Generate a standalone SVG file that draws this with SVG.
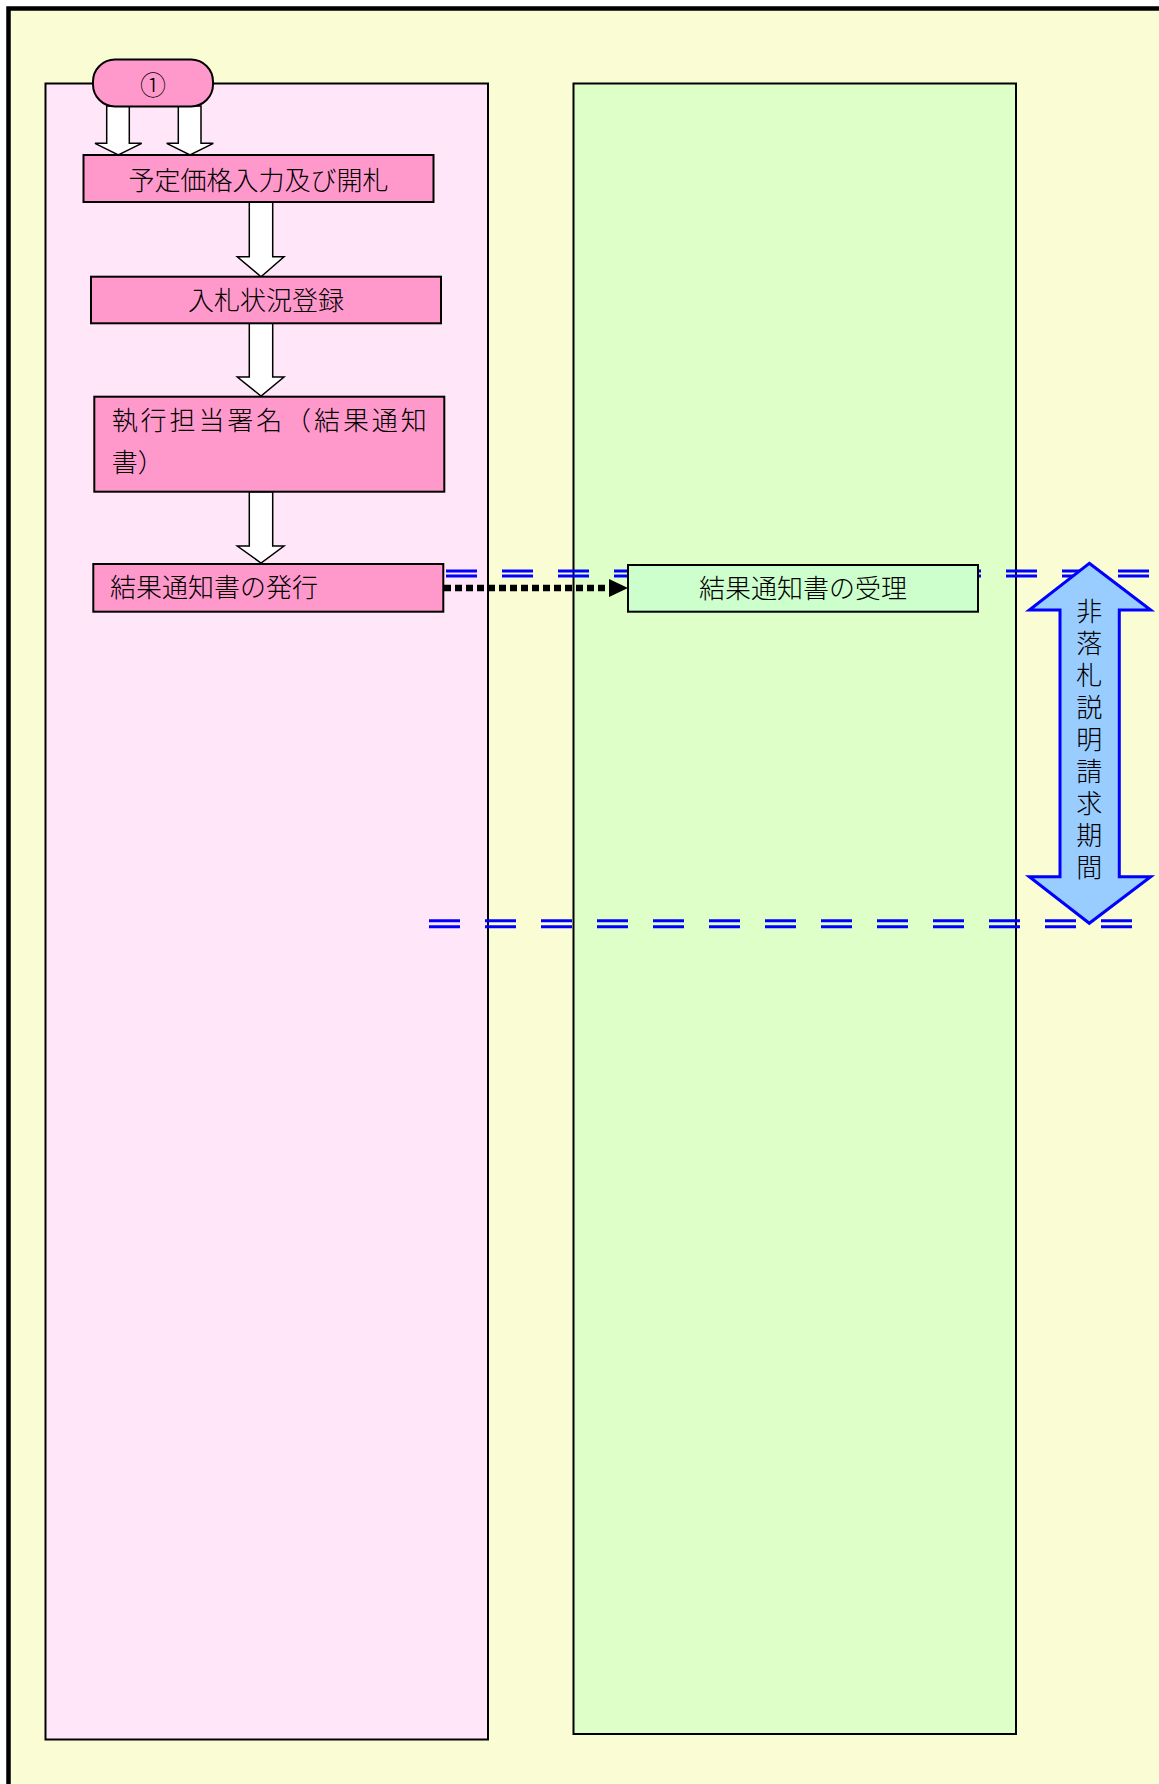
<svg xmlns="http://www.w3.org/2000/svg" width="1159" height="1784" viewBox="0 0 1159 1784">
<style>
.t{font-family:"Liberation Serif","Noto Sans CJK JP",serif;font-size:26px;font-weight:300;fill:#000}
.pbox{fill:#FF99CC;stroke:#000;stroke-width:2}
.blk{fill:#fff;stroke:#000;stroke-width:1.5;stroke-linejoin:miter}
.dbl{stroke:#0000FF;stroke-width:3;fill:none;stroke-dasharray:31 25}
.lane{stroke:#000;stroke-width:2}
</style>
<defs>
<marker id="ah" markerUnits="userSpaceOnUse" markerWidth="20" markerHeight="20" viewBox="0 0 20 20" refX="0" refY="9" orient="auto">
<polygon points="0,0 19,9 0,18" fill="#000"/>
</marker>
</defs>
<rect x="0" y="0" width="1159" height="1784" fill="#fff"/>
<rect id="frame" x="8.5" y="8.5" width="1200" height="1800" fill="#FAFCD4" stroke="#000" stroke-width="4.5"/>
<g id="lane-left"><rect class="lane" x="45.5" y="83.5" width="442.5" height="1656" fill="#FFE6F8"/></g>
<g id="lane-right"><rect class="lane" x="573.5" y="83.5" width="442.5" height="1650.5" fill="#DEFFC8"/></g>
<g id="period-lines">
<line class="dbl" x1="446" y1="571" x2="1159" y2="571"/>
<line class="dbl" x1="446" y1="576" x2="1159" y2="576"/>
<line class="dbl" x1="429" y1="920.7" x2="1140" y2="920.7"/>
<line class="dbl" x1="429" y1="926.7" x2="1140" y2="926.7"/>
</g>
<g id="connectors">
<polygon class="blk" points="106.7,106 129.3,106 129.3,143.3 141.7,143.3 118.3,155 95,143.3 106.7,143.3"/>
<polygon class="blk" points="178.3,106 201,106 201,143.3 213.3,143.3 190,155 166.7,143.3 178.3,143.3"/>
<polygon class="blk" points="249.3,202 272.7,202 272.7,256.7 284,256.7 261,276.7 237.3,256.7 249.3,256.7"/>
<polygon class="blk" points="249.3,323.3 272.7,323.3 272.7,377 284,377 261,396 237.3,377 249.3,377"/>
<polygon class="blk" points="249.3,491.7 272.7,491.7 272.7,546 284,546 261,563 237.3,546 249.3,546"/>
<line x1="444" y1="588" x2="609" y2="588" stroke="#000" stroke-width="6.5" stroke-dasharray="7 4" marker-end="url(#ah)"/>
</g>
<g id="node-start">
<rect x="93" y="59.5" width="120" height="47" rx="22" ry="22" fill="#FF99CC" stroke="#000" stroke-width="2"/>
<text class="t" x="153" y="95" text-anchor="middle" font-size="27">①</text>
</g>
<g id="node-1">
<rect class="pbox" x="83.5" y="155" width="350" height="47"/>
<text class="t" x="258.5" y="190" text-anchor="middle">予定価格入力及び開札</text>
</g>
<g id="node-2">
<rect class="pbox" x="91" y="276.7" width="350" height="46.6"/>
<text class="t" x="266" y="310" text-anchor="middle">入札状況登録</text>
</g>
<g id="node-3">
<rect class="pbox" x="94.3" y="396.7" width="350" height="95"/>
<text class="t" x="111.7" y="430" textLength="315" lengthAdjust="spacing">執行担当署名（結果通知</text>
<text class="t" x="111.7" y="471.7">書）</text>
</g>
<g id="node-4">
<rect class="pbox" x="93.3" y="564" width="350" height="47.7"/>
<text class="t" x="110" y="597">結果通知書の発行</text>
</g>
<g id="node-5">
<rect x="628" y="565" width="350" height="46.7" fill="#CCFFCC" stroke="#000" stroke-width="2"/>
<text class="t" x="803" y="598" text-anchor="middle">結果通知書の受理</text>
</g>
<g id="node-period">
<polygon points="1089.3,563.3 1150.7,610 1119.3,610 1119.3,876.7 1150.7,876.7 1089.3,923.3 1029.3,876.7 1060,876.7 1060,610 1029.3,610" fill="#99CCFF" stroke="#0000FF" stroke-width="3" stroke-linejoin="miter"/>
<text class="t" font-size="22" text-anchor="middle">
<tspan x="1089.3" y="621">非</tspan><tspan x="1089.3" y="653">落</tspan><tspan x="1089.3" y="685">札</tspan><tspan x="1089.3" y="717">説</tspan><tspan x="1089.3" y="749">明</tspan><tspan x="1089.3" y="781">請</tspan><tspan x="1089.3" y="813">求</tspan><tspan x="1089.3" y="845">期</tspan><tspan x="1089.3" y="877">間</tspan>
</text>
</g>
</svg>
